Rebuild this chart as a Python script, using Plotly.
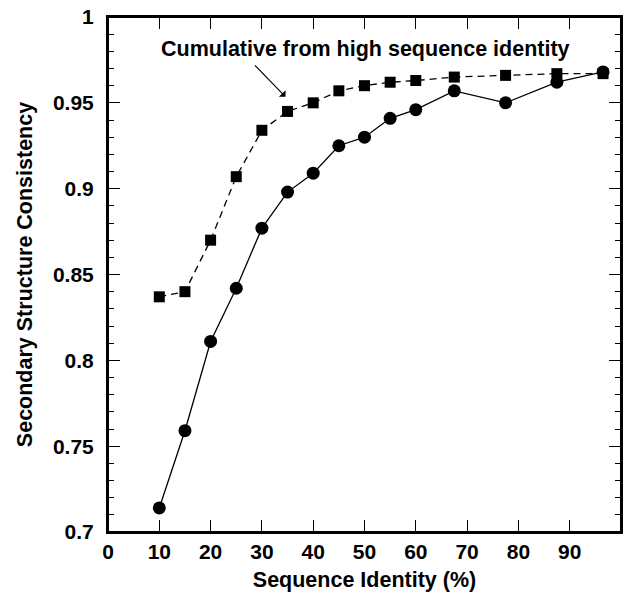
import plotly.graph_objects as go

identity = [10, 15, 20, 25, 30, 35, 40, 45, 50, 55, 60, 67.5, 77.5, 87.5, 96.5]
consistency = [0.714, 0.759, 0.811, 0.842, 0.877, 0.898, 0.909, 0.925, 0.930, 0.941, 0.946, 0.957, 0.950, 0.962, 0.968]
cumulative = [0.837, 0.840, 0.870, 0.907, 0.934, 0.945, 0.950, 0.957, 0.960, 0.962, 0.963, 0.965, 0.966, 0.967, 0.967]

x_ticks = [0, 10, 20, 30, 40, 50, 60, 70, 80, 90]
y_ticks = [0.7, 0.75, 0.8, 0.85, 0.9, 0.95, 1.0]
y_tick_labels = ["0.7", "0.75", "0.8", "0.85", "0.9", "0.95", "1"]

FONT = "Liberation Sans, Arial, Helvetica, sans-serif"

fig = go.Figure()
# invisible helper trace so that the top / right frame axes are drawn
fig.add_trace(go.Scatter(
    x=identity, y=cumulative, xaxis="x2", yaxis="y2", mode="markers",
    marker=dict(opacity=0), hoverinfo="skip", showlegend=False,
))
fig.add_trace(go.Scatter(
    x=identity, y=cumulative, mode="lines+markers",
    line=dict(color="black", width=1.3, dash="7px,5px"),
    marker=dict(symbol="square", size=11, color="black"),
    showlegend=False, cliponaxis=False,
))
fig.add_trace(go.Scatter(
    x=identity, y=consistency, mode="lines+markers",
    line=dict(color="black", width=1.3),
    marker=dict(symbol="circle", size=13, color="black"),
    showlegend=False, cliponaxis=False,
))

fig.add_annotation(
    x=50.2, y=0.9814, xref="x", yref="y",
    text="<b>Cumulative from high sequence identity</b>",
    showarrow=False, font=dict(family=FONT, size=21.5, color="black"),
)
fig.add_annotation(
    x=34.6, y=0.9535, xref="x", yref="y", text="",
    showarrow=True, arrowhead=1, arrowsize=1.3, arrowwidth=1.2, arrowcolor="black",
    ax=-32, ay=-33, axref="pixel", ayref="pixel",
)

# plot frame (paper coordinates, styling only)
fig.add_shape(type="rect", xref="paper", yref="paper", x0=0, x1=1, y0=0, y1=1,
              line=dict(color="black", width=2), layer="above")

tick_common = dict(ticks="inside", tickwidth=1.3, tickcolor="black", showline=True,
                   linecolor="black", linewidth=2, showgrid=False, zeroline=False, automargin=False)

fig.update_layout(
    width=624, height=592,
    margin=dict(l=108, r=3, t=17, b=60, autoexpand=False),
    paper_bgcolor="white", plot_bgcolor="white",
    font=dict(family=FONT, size=21, color="black"),
    xaxis=dict(
        range=[0, 100], tickvals=x_ticks, ticklen=12, **tick_common,
        tickfont=dict(family=FONT, size=21, color="black", weight="bold"),
        title=dict(text="<b>Sequence Identity (%)</b>", font=dict(family=FONT, size=21.5), standoff=11),
    ),
    yaxis=dict(
        range=[0.7, 1.0], tickvals=y_ticks, ticktext=y_tick_labels, ticklen=12, **tick_common,
        minor=dict(dtick=0.01, ticks="inside", ticklen=6, tickwidth=1.3, tickcolor="black", showgrid=False),
        tickfont=dict(family=FONT, size=21, color="black", weight="bold"),
        ticklabelstandoff=8,
        title=dict(text="<b>Secondary Structure Consistency</b>", font=dict(family=FONT, size=21.5), standoff=14),
    ),
    xaxis2=dict(
        range=[0, 100], tickvals=x_ticks, ticklen=12, overlaying="x", side="top",
        showticklabels=False, **tick_common,
    ),
    yaxis2=dict(
        range=[0.7, 1.0], tickvals=y_ticks, ticklen=12, overlaying="y", side="right",
        showticklabels=False, **tick_common,
        minor=dict(dtick=0.01, ticks="inside", ticklen=6, tickwidth=1.3, tickcolor="black", showgrid=False),
    ),
)

fig.write_html(
    "out.html",
    config={"displayModeBar": False},
    post_script="document.body.style.margin='0';document.body.style.overflow='hidden';",
)
